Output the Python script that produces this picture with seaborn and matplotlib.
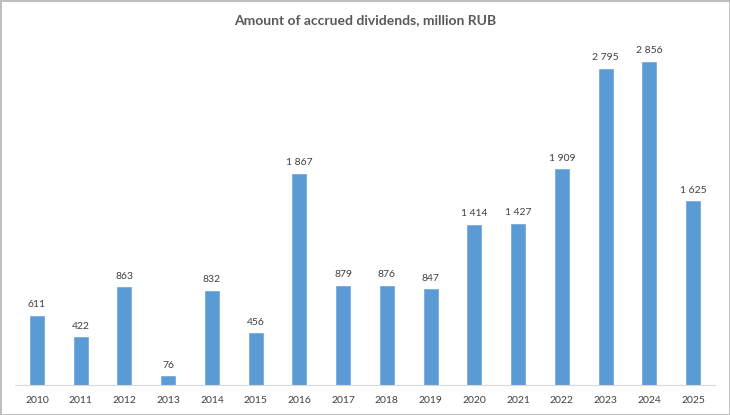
import matplotlib
matplotlib.use('Agg')
import matplotlib.pyplot as plt
import seaborn as sns
import pandas as pd

years = ['2010', '2011', '2012', '2013', '2014', '2015', '2016', '2017',
         '2018', '2019', '2020', '2021', '2022', '2023', '2024', '2025']
dividends = [611, 422, 863, 76, 832, 456, 1867, 879,
             876, 847, 1414, 1427, 1909, 2795, 2856, 1625]

df = pd.DataFrame({'year': years, 'value': dividends})

sns.set_style('white')
plt.rcParams['font.family'] = ['Lato', 'DejaVu Sans']

fig = plt.figure(figsize=(7.3, 4.15), dpi=100, edgecolor='#bfbfbf', linewidth=2)
ax = fig.add_axes([15 / 730, 30 / 415, 700 / 730, 339 / 415])

sns.barplot(data=df, x='year', y='value', color='#5b9bd5', saturation=1,
            width=0.32, ax=ax, edgecolor='#6aa6dc', linewidth=0.5)

ax.set_xlim(-0.5, len(years) - 0.5)
ax.set_ylim(0, 3000)
for i, v in enumerate(dividends):
    label = f'{v:,}'.replace(',', ' ')
    ax.text(i, v + 60, label, ha='center', va='bottom', fontsize=7.5, color='#404040')

sns.despine(ax=ax, left=True, top=True, right=True)
ax.spines['bottom'].set_color('#d9d9d9')
ax.set_yticks([])
ax.set_xlabel('')
ax.set_ylabel('')
ax.tick_params(axis='x', length=0, labelsize=7.5, labelcolor='#404040', pad=8)

fig.suptitle('Amount of accrued dividends, million RUB', y=1 - 20 / 415, va='center',
             fontsize=10, fontweight='bold', color='#595959')

fig.savefig('out.png', dpi=100)
